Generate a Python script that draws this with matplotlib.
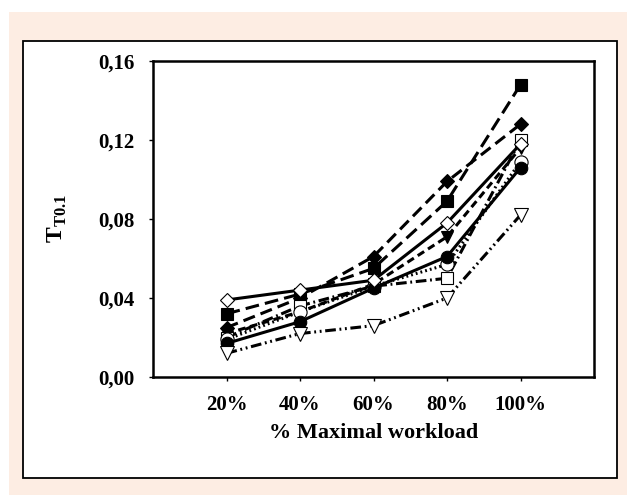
import matplotlib.pyplot as plt
from matplotlib.patches import Rectangle

# datos
cargas = ['20%', '40%', '60%', '80%', '100%']
pos = [1, 2, 3, 4, 5]

cuadrado_lleno = [0.032, 0.042, 0.055, 0.089, 0.148]
rombo_lleno = [0.025, 0.040, 0.061, 0.099, 0.128]
rombo_vacio = [0.039, 0.044, 0.049, 0.078, 0.118]
cuadrado_vacio = [0.020, 0.036, 0.046, 0.050, 0.120]
circulo_lleno = [0.017, 0.028, 0.045, 0.061, 0.106]
circulo_vacio = [0.019, 0.033, 0.046, 0.057, 0.109]
triangulo_lleno = [0.022, 0.033, 0.047, 0.071, 0.116]
triangulo_vacio = [0.012, 0.022, 0.026, 0.040, 0.082]

yticks = [0.00, 0.04, 0.08, 0.12, 0.16]
ytick_labels = ['0,00', '0,04', '0,08', '0,12', '0,16']

plt.rcParams['font.family'] = 'Liberation Serif'
plt.rcParams['font.weight'] = 'bold'
plt.rcParams['mathtext.fontset'] = 'custom'
plt.rcParams['mathtext.rm'] = 'Liberation Serif:bold'
plt.rcParams['mathtext.bf'] = 'Liberation Serif:bold'

fig = plt.figure(figsize=(6.27, 4.95), dpi=100)

# fondo durazno y recuadro blanco
fig.patches.append(Rectangle((9 / 627, 0), 1, 1 - 12 / 495, transform=fig.transFigure,
                             facecolor='#fdede3', edgecolor='none', zorder=-3))
fig.patches.append(Rectangle((23 / 627, 1 - 478 / 495), 594 / 627, 437 / 495,
                             transform=fig.transFigure, facecolor='white',
                             edgecolor='black', linewidth=1.3, zorder=-2))

ax = fig.add_axes([153 / 627, 1 - 377 / 495, 441 / 627, 316 / 495])
ax.set_facecolor('white')

series = [
    (cuadrado_lleno, 's', 'black', (4.5, 2), 8.5),
    (rombo_lleno, 'D', 'black', (4, 2), 7.5),
    (triangulo_lleno, 'v', 'black', (2.5, 1.5), 9),
    (cuadrado_vacio, 's', 'white', (3.5, 1.2, 0.6, 1.2), 8.5),
    (circulo_vacio, 'o', 'white', (0.6, 1), 9.5),
    (circulo_lleno, 'o', 'black', None, 9),
    (rombo_vacio, 'D', 'white', None, 7.5),
    (triangulo_vacio, 'v', 'white', (3.5, 1.2, 0.6, 1.2, 0.6, 1.2), 9.5),
]

for datos, marca, relleno, guiones, tam in series:
    linea, = ax.plot(pos, datos, color='black', linewidth=2.2, marker=marca,
                     markersize=tam, markerfacecolor=relleno,
                     markeredgecolor='black', markeredgewidth=0.8)
    if guiones is not None:
        linea.set_dashes(guiones)

ax.set_xlim(0, 6)
ax.set_ylim(0, 0.16)
ax.set_xticks(pos)
ax.set_xticklabels(cargas)
ax.set_yticks(yticks)
ax.set_yticklabels(ytick_labels)
ax.tick_params(axis='both', direction='out', length=3, width=1, labelsize=15)
ax.tick_params(axis='y', pad=10)
ax.tick_params(axis='x', pad=10)

for lado in ax.spines.values():
    lado.set_linewidth(1.8)

ax.set_xlabel('% Maximal workload', fontsize=16, fontweight='bold', labelpad=6)
fig.text(57 / 627, 1 - 219 / 495, r'$\mathrm{T}_{\mathrm{T0.1}}$', rotation=90,
         ha='center', va='center', fontsize=17)

plt.savefig('out.png', dpi=100)
